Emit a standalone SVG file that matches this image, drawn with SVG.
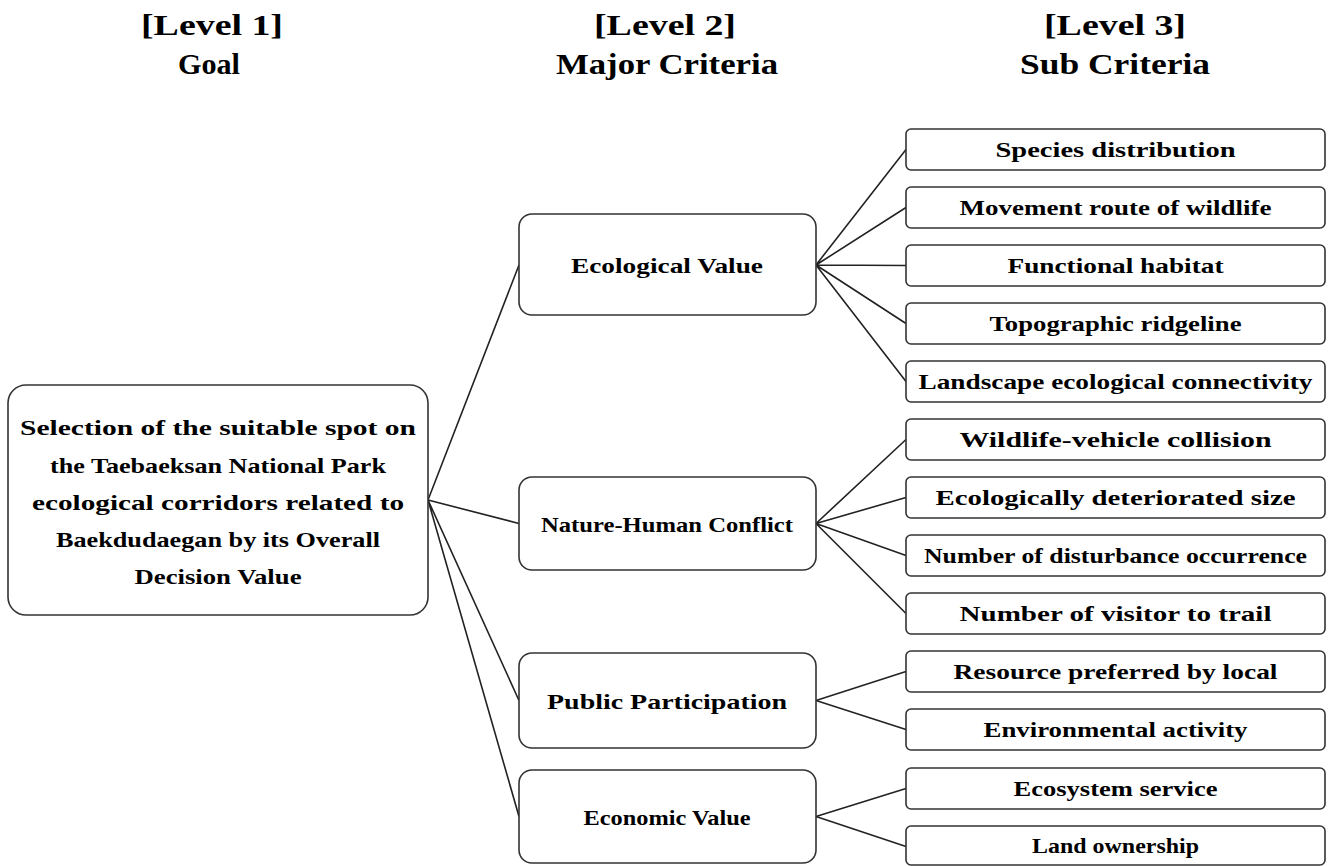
<svg xmlns="http://www.w3.org/2000/svg" width="1331" height="866" viewBox="0 0 1331 866">
<style>
.box{fill:#fff;stroke:#333;stroke-width:1.6}
.t{font-family:"Liberation Serif","DejaVu Serif",serif;font-weight:bold;font-size:22px;fill:#000;text-anchor:middle}
.h{font-family:"Liberation Serif","DejaVu Serif",serif;font-weight:bold;font-size:30px;fill:#000;text-anchor:middle}
.c{stroke:#222;stroke-width:1.6;fill:none}
</style>
<rect width="1331" height="866" fill="#fff"/>
<g id="headers">
<text class="h" x="212" y="35" textLength="142" lengthAdjust="spacingAndGlyphs">[Level 1]</text>
<text class="h" x="209" y="74" textLength="62" lengthAdjust="spacingAndGlyphs">Goal</text>
<text class="h" x="665" y="35" textLength="142" lengthAdjust="spacingAndGlyphs">[Level 2]</text>
<text class="h" x="667" y="74" textLength="222" lengthAdjust="spacingAndGlyphs">Major Criteria</text>
<text class="h" x="1115" y="35" textLength="142" lengthAdjust="spacingAndGlyphs">[Level 3]</text>
<text class="h" x="1115" y="74" textLength="190" lengthAdjust="spacingAndGlyphs">Sub Criteria</text>
</g>
<g id="connectors">
<path class="c" d="M428,500 L519,265 M428,500 L519,523.5 M428,500 L519,700.5 M428,500 L519,816.5"/>
<path class="c" d="M816,265 L906,149.5 M816,265 L906,207.5 M816,265 L906,265.5 M816,265 L906,323.5 M816,265 L906,381.5"/>
<path class="c" d="M816,523.5 L906,439.5 M816,523.5 L906,497.5 M816,523.5 L906,555.5 M816,523.5 L906,613.5"/>
<path class="c" d="M816,700.5 L906,671.5 M816,700.5 L906,729.5"/>
<path class="c" d="M816,816.5 L906,788.5 M816,816.5 L906,846.5"/>
</g>
<g id="goal">
<rect class="box" x="8" y="385" width="420" height="230" rx="18"/>
<text class="t" x="218" y="435" textLength="396" lengthAdjust="spacingAndGlyphs">Selection of the suitable spot on</text>
<text class="t" x="218" y="472.5" textLength="336" lengthAdjust="spacingAndGlyphs">the Taebaeksan National Park</text>
<text class="t" x="218" y="510" textLength="372" lengthAdjust="spacingAndGlyphs">ecological corridors related to</text>
<text class="t" x="218" y="547" textLength="324" lengthAdjust="spacingAndGlyphs">Baekdudaegan by its Overall</text>
<text class="t" x="218" y="584" textLength="167" lengthAdjust="spacingAndGlyphs">Decision Value</text>
</g>
<g id="ecological-value">
<rect class="box" x="519" y="214" width="297" height="101" rx="13"/>
<text class="t" x="667" y="273" textLength="192" lengthAdjust="spacingAndGlyphs">Ecological Value</text>
</g>
<g id="nature-human-conflict">
<rect class="box" x="519" y="477" width="297" height="93" rx="13"/>
<text class="t" x="667" y="531.5" textLength="252" lengthAdjust="spacingAndGlyphs">Nature-Human Conflict</text>
</g>
<g id="public-participation">
<rect class="box" x="519" y="653" width="297" height="95" rx="13"/>
<text class="t" x="667" y="708.5" textLength="240" lengthAdjust="spacingAndGlyphs">Public Participation</text>
</g>
<g id="economic-value">
<rect class="box" x="519" y="770" width="297" height="93" rx="13"/>
<text class="t" x="667" y="824.5" textLength="167" lengthAdjust="spacingAndGlyphs">Economic Value</text>
</g>
<g id="species-distribution"><rect class="box" x="906" y="129" width="419" height="41" rx="5"/><text class="t" x="1115.5" y="156.5" textLength="240" lengthAdjust="spacingAndGlyphs">Species distribution</text></g>
<g id="movement-route"><rect class="box" x="906" y="187" width="419" height="41" rx="5"/><text class="t" x="1115.5" y="214.5" textLength="312" lengthAdjust="spacingAndGlyphs">Movement route of wildlife</text></g>
<g id="functional-habitat"><rect class="box" x="906" y="245" width="419" height="41" rx="5"/><text class="t" x="1115.5" y="272.5" textLength="216" lengthAdjust="spacingAndGlyphs">Functional habitat</text></g>
<g id="topographic-ridgeline"><rect class="box" x="906" y="303" width="419" height="41" rx="5"/><text class="t" x="1115.5" y="330.5" textLength="252" lengthAdjust="spacingAndGlyphs">Topographic ridgeline</text></g>
<g id="landscape-connectivity"><rect class="box" x="906" y="361" width="419" height="41" rx="5"/><text class="t" x="1115.5" y="388.5" textLength="394" lengthAdjust="spacingAndGlyphs">Landscape ecological connectivity</text></g>
<g id="wildlife-vehicle"><rect class="box" x="906" y="419" width="419" height="41" rx="5"/><text class="t" x="1115.5" y="446.5" textLength="312" lengthAdjust="spacingAndGlyphs">Wildlife-vehicle collision</text></g>
<g id="deteriorated-size"><rect class="box" x="906" y="477" width="419" height="41" rx="5"/><text class="t" x="1115.5" y="504.5" textLength="360" lengthAdjust="spacingAndGlyphs">Ecologically deteriorated size</text></g>
<g id="disturbance"><rect class="box" x="906" y="535" width="419" height="41" rx="5"/><text class="t" x="1115.5" y="562.5" textLength="383" lengthAdjust="spacingAndGlyphs">Number of disturbance occurrence</text></g>
<g id="visitor"><rect class="box" x="906" y="593" width="419" height="41" rx="5"/><text class="t" x="1115.5" y="620.5" textLength="312" lengthAdjust="spacingAndGlyphs">Number of visitor to trail</text></g>
<g id="resource-preferred"><rect class="box" x="906" y="651" width="419" height="41" rx="5"/><text class="t" x="1115.5" y="678.5" textLength="324" lengthAdjust="spacingAndGlyphs">Resource preferred by local</text></g>
<g id="environmental-activity"><rect class="box" x="906" y="709" width="419" height="41" rx="5"/><text class="t" x="1115.5" y="736.5" textLength="264" lengthAdjust="spacingAndGlyphs">Environmental activity</text></g>
<g id="ecosystem-service"><rect class="box" x="906" y="768" width="419" height="41" rx="5"/><text class="t" x="1115.5" y="795.5" textLength="204" lengthAdjust="spacingAndGlyphs">Ecosystem service</text></g>
<g id="land-ownership"><rect class="box" x="906" y="826" width="419" height="39" rx="5"/><text class="t" x="1115.5" y="852.5" textLength="167" lengthAdjust="spacingAndGlyphs">Land ownership</text></g>
</svg>
